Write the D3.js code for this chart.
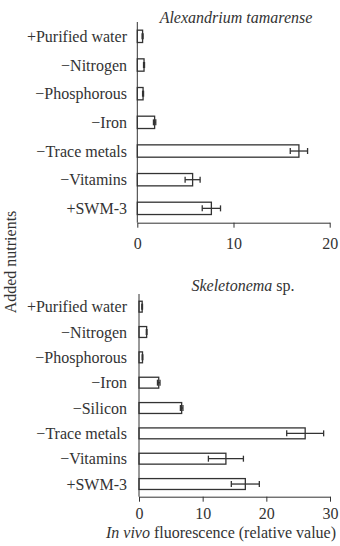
<!DOCTYPE html>
<meta charset="utf-8">
<style>
  body { margin: 0; background: #fff; }
  svg { display: block; font-family: "Liberation Serif", "Times New Roman", serif; }
  .lbl { font-size: 16px; fill: #333; }
</style>
<body>
<div id="chart"></div>
<script src="https://d3js.org/d3.v7.min.js"></script>
<script>
  // Alexandrium tamarense panel
  const alexCategories = ["+Purified water", "\u2212Nitrogen", "\u2212Phosphorous", "\u2212Iron", "\u2212Trace metals", "\u2212Vitamins", "+SWM-3"];
  const alexValues = [0.55, 0.7, 0.6, 1.8, 16.8, 5.75, 7.7];
  const alexErrors = [0.05, 0.05, 0.05, 0.12, 0.9, 0.78, 0.95];
  const alexTicks = [0, 10, 20];

  // Skeletonema sp. panel
  const skelCategories = ["+Purified water", "\u2212Nitrogen", "\u2212Phosphorous", "\u2212Iron", "\u2212Silicon", "\u2212Trace metals", "\u2212Vitamins", "+SWM-3"];
  const skelValues = [0.5, 1.2, 0.55, 3.1, 6.7, 26.1, 13.65, 16.7];
  const skelErrors = [0.05, 0.05, 0.05, 0.2, 0.2, 2.9, 2.75, 2.2];
  const skelTicks = [0, 10, 20, 30];

  const W = 340, H = 546;
  const ink = "#333";

  const svg = d3.select("#chart").append("svg")
    .attr("width", W)
    .attr("height", H);

  function drawPanel(opt) {
    const x = d3.scaleLinear().domain([0, opt.max]).range([opt.left, opt.right]);
    const y = d3.scaleBand().domain(opt.cats).range([opt.top, opt.bottom])
      .paddingInner(0.57).paddingOuter(0.285);

    const g = svg.append("g");
    const rows = opt.cats.map((c, i) => ({ cat: c, v: opt.vals[i], e: opt.errs[i] }));

    // bars
    g.selectAll("rect.bar")
      .data(rows)
      .join("rect")
      .attr("class", "bar")
      .attr("x", x(0))
      .attr("y", d => y(d.cat))
      .attr("width", d => x(d.v) - x(0))
      .attr("height", y.bandwidth())
      .attr("fill", "#fff")
      .attr("stroke", ink)
      .attr("stroke-width", 1.3);

    // error bars
    const eb = g.selectAll("g.err")
      .data(rows)
      .join("g")
      .attr("class", "err")
      .attr("stroke", ink)
      .attr("stroke-width", 1.3);
    eb.append("line")
      .attr("x1", d => x(d.v - d.e)).attr("x2", d => x(d.v + d.e))
      .attr("y1", d => y(d.cat) + y.bandwidth() / 2)
      .attr("y2", d => y(d.cat) + y.bandwidth() / 2);
    [-1, 1].forEach(s => {
      eb.append("line")
        .attr("x1", d => x(d.v + s * d.e)).attr("x2", d => x(d.v + s * d.e))
        .attr("y1", d => y(d.cat) + y.bandwidth() / 2 - 3)
        .attr("y2", d => y(d.cat) + y.bandwidth() / 2 + 3);
    });

    // x axis
    const xa = g.append("g")
      .attr("transform", `translate(0,${opt.bottom})`)
      .call(d3.axisBottom(x).tickValues(opt.ticks).tickSize(5).tickSizeOuter(0))
      .attr("font-family", null)
      .attr("font-size", null);
    xa.select(".domain").attr("stroke", ink);
    xa.selectAll(".tick line").attr("stroke", ink);
    xa.selectAll(".tick text")
      .attr("class", "lbl")
      .attr("fill", ink)
      .attr("dy", null)
      .attr("y", opt.tickDy);

    // y axis line
    g.append("line")
      .attr("x1", x(0)).attr("x2", x(0))
      .attr("y1", opt.top).attr("y2", opt.bottom)
      .attr("stroke", ink);

    // category labels
    g.selectAll("text.cat")
      .data(rows)
      .join("text")
      .attr("class", "lbl cat")
      .attr("x", 127)
      .attr("y", d => y(d.cat) + y.bandwidth() / 2 + 5.5)
      .attr("text-anchor", "end")
      .text(d => d.cat);

    // title
    const t = g.append("text")
      .attr("class", "lbl")
      .attr("x", opt.titleX)
      .attr("y", opt.titleY)
      .attr("text-anchor", "middle");
    opt.title.forEach(p => t.append("tspan").attr("font-style", p[1] ? "italic" : null).text(p[0]));
  }

  drawPanel({
    cats: alexCategories, vals: alexValues, errs: alexErrors, ticks: alexTicks, max: 20,
    left: 137.3, right: 329.7, top: 22, bottom: 222.7, tickDy: 26,
    title: [["Alexandrium tamarense", true]], titleX: 236, titleY: 23
  });

  drawPanel({
    cats: skelCategories, vals: skelValues, errs: skelErrors, ticks: skelTicks, max: 30,
    left: 139, right: 330, top: 294, bottom: 496.7, tickDy: 22,
    title: [["Skeletonema", true], [" sp.", false]], titleX: 243, titleY: 291
  });

  // y axis title
  svg.append("text")
    .attr("class", "lbl")
    .attr("transform", "translate(16,262) rotate(-90)")
    .attr("text-anchor", "middle")
    .text("Added nutrients");

  // x axis title
  const xt = svg.append("text")
    .attr("class", "lbl")
    .attr("x", 221)
    .attr("y", 538)
    .attr("text-anchor", "middle");
  xt.append("tspan").attr("font-style", "italic").text("In vivo");
  xt.append("tspan").text(" fluorescence (relative value)");
</script>
</body>
